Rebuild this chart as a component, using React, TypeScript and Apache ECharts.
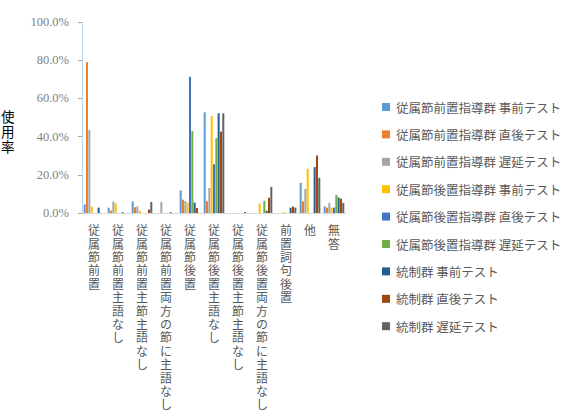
import React, { useEffect, useRef } from "react";
import * as echarts from "echarts";

const categories = [
  "従属節前置",
  "従属節前置主語なし",
  "従属節前置主節主語なし",
  "従属節前置両方の節に主語なし",
  "従属節後置",
  "従属節後置主語なし",
  "従属節後置主節主語なし",
  "従属節後置両方の節に主語なし",
  "前置詞句後置",
  "他",
  "無答",
];

const seriesNames = [
  "従属節前置指導群 事前テスト",
  "従属節前置指導群 直後テスト",
  "従属節前置指導群 遅延テスト",
  "従属節後置指導群 事前テスト",
  "従属節後置指導群 直後テスト",
  "従属節後置指導群 遅延テスト",
  "統制群 事前テスト",
  "統制群 直後テスト",
  "統制群 遅延テスト",
];

const preFrontPre = [4.5, 2.8, 6.1, 0, 11.8, 52.7, 0, 0, 0, 15.8, 3.5];
const preFrontPost = [79.0, 1.3, 3.0, 0, 7.0, 6.1, 0, 0, 0, 6.1, 2.8];
const preFrontDelay = [43.4, 6.0, 3.5, 5.8, 6.3, 13.1, 0, 0, 0, 12.6, 5.3];
const postFrontPre = [3.4, 5.0, 1.2, 0, 5.4, 50.8, 0, 4.9, 0.5, 23.1, 2.8];
const postFrontPost = [0, 0, 0, 0, 71.3, 25.5, 0, 0, 0, 0, 2.8];
const postFrontDelay = [0, 0, 0, 0, 42.9, 39.2, 0, 6.4, 0, 0, 9.4];
const controlPre = [2.8, 0.4, 0, 0.4, 5.4, 52.2, 0, 1.2, 2.8, 24.0, 8.1];
const controlPost = [0, 0, 1.8, 0, 2.6, 42.6, 0.5, 8.0, 3.4, 30.1, 7.5];
const controlDelay = [0, 0, 5.8, 0, 0, 52.2, 0, 13.7, 2.8, 18.4, 5.3];

const seriesData = [
  preFrontPre,
  preFrontPost,
  preFrontDelay,
  postFrontPre,
  postFrontPost,
  postFrontDelay,
  controlPre,
  controlPost,
  controlDelay,
];

const colors = [
  "#5B9BD5",
  "#ED7D31",
  "#A5A5A5",
  "#FFC000",
  "#4472C4",
  "#70AD47",
  "#255E91",
  "#9E480E",
  "#636363",
];

const yTicks = [0, 20, 40, 60, 80, 100];

const FONT = "'Liberation Serif', 'Noto Sans CJK JP', serif";

export default function App() {
  const ref = useRef<HTMLDivElement>(null);

  useEffect(() => {
    if (!ref.current) return;
    const chart = echarts.init(ref.current, null, { renderer: "svg" });
    chart.setOption({
      animation: false,
      color: colors,
      textStyle: { fontFamily: FONT },
      grid: { left: 82, right: 220, top: 22, bottom: 202, containLabel: false },
      graphic: [
        {
          type: "text",
          left: 1,
          top: 108,
          style: {
            text: "使\n用\n率",
            fontSize: 13.5,
            lineHeight: 15,
            fill: "#000000",
            fontFamily: "'Noto Sans CJK JP'",
          },
        },
      ],
      legend: {
        orient: "vertical",
        left: 377,
        top: 95,
        itemWidth: 8,
        itemHeight: 8,
        itemGap: 13.4,
        icon: "rect",
        data: seriesNames,
        textStyle: {
          fontSize: 12.5,
          lineHeight: 14,
          color: "#595959",
          fontFamily: "'Noto Sans CJK JP'",
          padding: [0, 0, 0, 1],
        },
      },
      xAxis: {
        type: "category",
        data: categories,
        axisLine: { show: true, lineStyle: { color: "#D9D9D9" } },
        axisTick: { show: false },
        axisLabel: {
          interval: 0,
          margin: 10,
          fontSize: 12,
          lineHeight: 13.4,
          color: "#595959",
          fontFamily: "'Noto Sans CJK JP'",
          formatter: (v: string) => v.split("").join("\n"),
        },
      },
      yAxis: {
        type: "value",
        min: yTicks[0],
        max: yTicks[yTicks.length - 1],
        interval: 20,
        splitLine: { show: false },
        axisLine: { show: true, lineStyle: { color: "#BDD7EE" } },
        axisTick: { show: true, length: 4, inside: false, lineStyle: { color: "#A6A6A6" } },
        axisLabel: {
          margin: 13,
          fontSize: 12.5,
          color: "#7F7F7F",
          fontFamily: "'Liberation Serif', serif",
          formatter: (v: number) => v.toFixed(1) + "%",
        },
      },
      series: seriesNames.map((name, i) => ({
        name,
        type: "bar",
        data: seriesData[i],
        barGap: "15%",
        barCategoryGap: "14%",
        itemStyle: { color: colors[i] },
      })),
    });
    return () => chart.dispose();
  }, []);

  return (
    <div
      ref={ref}
      style={{ position: "fixed", left: 0, top: 0, width: 566, height: 415, background: "#ffffff" }}
    />
  );
}
